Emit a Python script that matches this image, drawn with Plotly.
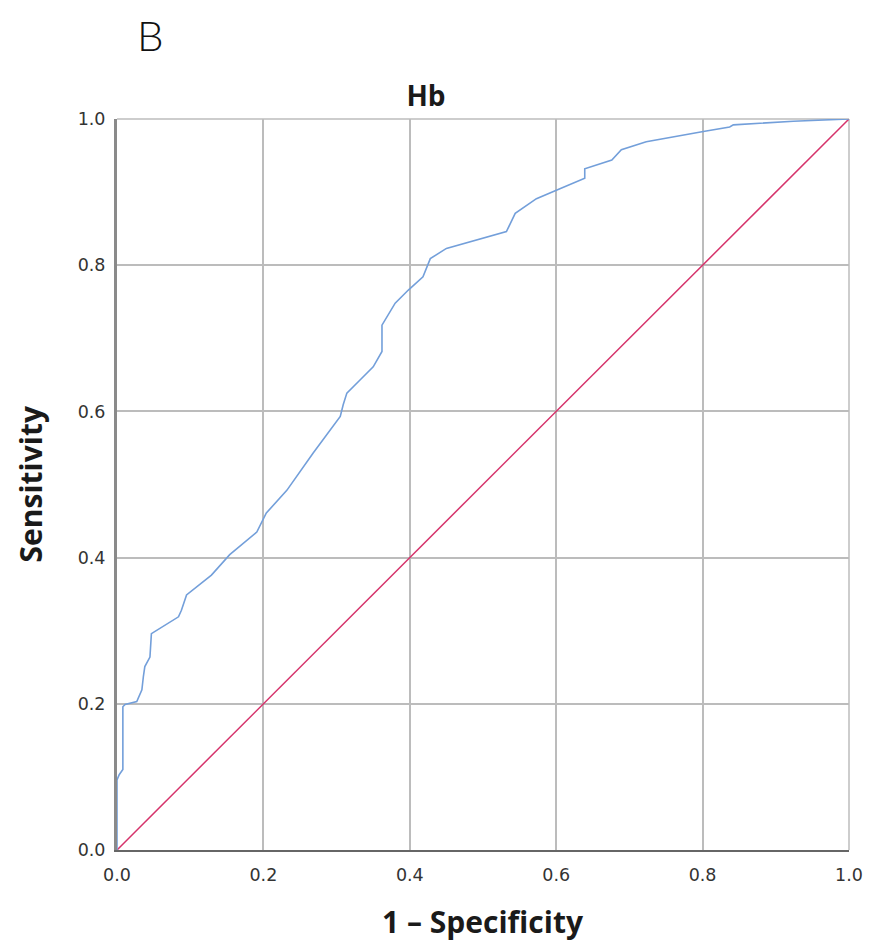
import plotly.graph_objects as go

# ROC curve for Hb (1 - specificity, sensitivity)
fpr = [0.0, 0.0, 0.003, 0.008, 0.008, 0.011, 0.027, 0.034, 0.036, 0.038, 0.045, 0.047,
       0.084, 0.088, 0.095, 0.129, 0.154, 0.191, 0.204, 0.232, 0.268, 0.305, 0.309,
       0.314, 0.332, 0.350, 0.362, 0.362, 0.380, 0.398, 0.418, 0.428, 0.450, 0.532,
       0.544, 0.573, 0.601, 0.639, 0.639, 0.676, 0.689, 0.723, 0.801, 0.837, 0.842,
       0.878, 0.924, 1.0]
tpr = [0.0, 0.096, 0.103, 0.110, 0.196, 0.199, 0.203, 0.219, 0.237, 0.251, 0.264, 0.296,
       0.319, 0.328, 0.349, 0.376, 0.404, 0.435, 0.461, 0.492, 0.543, 0.593, 0.609,
       0.625, 0.643, 0.661, 0.682, 0.718, 0.748, 0.766, 0.784, 0.809, 0.823, 0.846,
       0.871, 0.891, 0.903, 0.919, 0.932, 0.944, 0.958, 0.969, 0.983, 0.989, 0.992,
       0.994, 0.997, 1.0]
ref_x = [0.0, 1.0]
ref_y = [0.0, 1.0]
tick_vals = [0.0, 0.2, 0.4, 0.6, 0.8, 1.0]
tick_text = ["0.0", "0.2", "0.4", "0.6", "0.8", "1.0"]

W, H = 855, 934
L, R, T, B = 109, 14, 111, 92
PW = W - L - R
PH = H - T - B

fig = go.Figure()
fig.add_trace(go.Scatter(x=ref_x, y=ref_y, mode="lines",
                         line=dict(color="#d6336b", width=1.5), showlegend=False))
fig.add_trace(go.Scatter(x=fpr, y=tpr, mode="lines",
                         line=dict(color="#739fda", width=1.6), showlegend=False))

grid = "#bcbcbc"
title_font = dict(family="Open Sans", weight=700, color="#1a1a1a")
fig.update_layout(
    width=W, height=H,
    margin=dict(l=L, r=R, t=T, b=B, autoexpand=False),
    paper_bgcolor="white", plot_bgcolor="white",
    font=dict(family="DejaVu Sans", color="#333333"),
    title=dict(text="Hb", x=418 / W, xanchor="center", xref="container",
               y=1 - 88 / H, yanchor="middle", yref="container",
               font=dict(size=28, **title_font)),
    xaxis=dict(range=[0, 1], tickvals=tick_vals, ticktext=tick_text,
               automargin=False, ticklabeloverflow="allow",
               showgrid=True, gridcolor=grid, gridwidth=1.5,
               showline=True, linecolor="#666666", linewidth=2,
               zeroline=False, ticks="outside", ticklen=8, tickcolor="rgba(0,0,0,0)",
               tickfont=dict(size=17.5, color="#333333")),
    yaxis=dict(range=[0, 1], tickvals=tick_vals, ticktext=tick_text,
               automargin=False, ticklabeloverflow="allow",
               showgrid=True, gridcolor=grid, gridwidth=1.5,
               showline=True, linecolor="#8a8a8a", linewidth=3,
               zeroline=False, ticks="outside", ticklen=5, tickcolor="rgba(0,0,0,0)",
               tickfont=dict(size=17.5, color="#333333")),
    annotations=[
        dict(text="B", x=(142 - L) / PW, y=1 + T / PH, xref="paper", yref="paper",
             xanchor="center", yanchor="top", showarrow=False,
             font=dict(size=42, family="Lato", weight=300, color="#111111")),
        dict(text="1 – Specificity", x=0.5, y=-(913 - (T + PH)) / PH,
             xref="paper", yref="paper", xanchor="center", yanchor="middle",
             showarrow=False, font=dict(size=30, **title_font)),
        dict(text="Sensitivity", x=-(L - 22) / PW, y=0.5, textangle=-90,
             xref="paper", yref="paper", xanchor="center", yanchor="middle",
             showarrow=False, font=dict(size=30, **title_font)),
    ],
)
# top and right border as light grid lines
fig.add_shape(type="line", xref="paper", yref="paper", x0=0, x1=1, y0=1, y1=1,
              line=dict(color=grid, width=1.5), layer="below")
fig.add_shape(type="line", xref="paper", yref="paper", x0=1, x1=1, y0=0, y1=1,
              line=dict(color=grid, width=1.5), layer="below")

fig.write_html("out.html")
